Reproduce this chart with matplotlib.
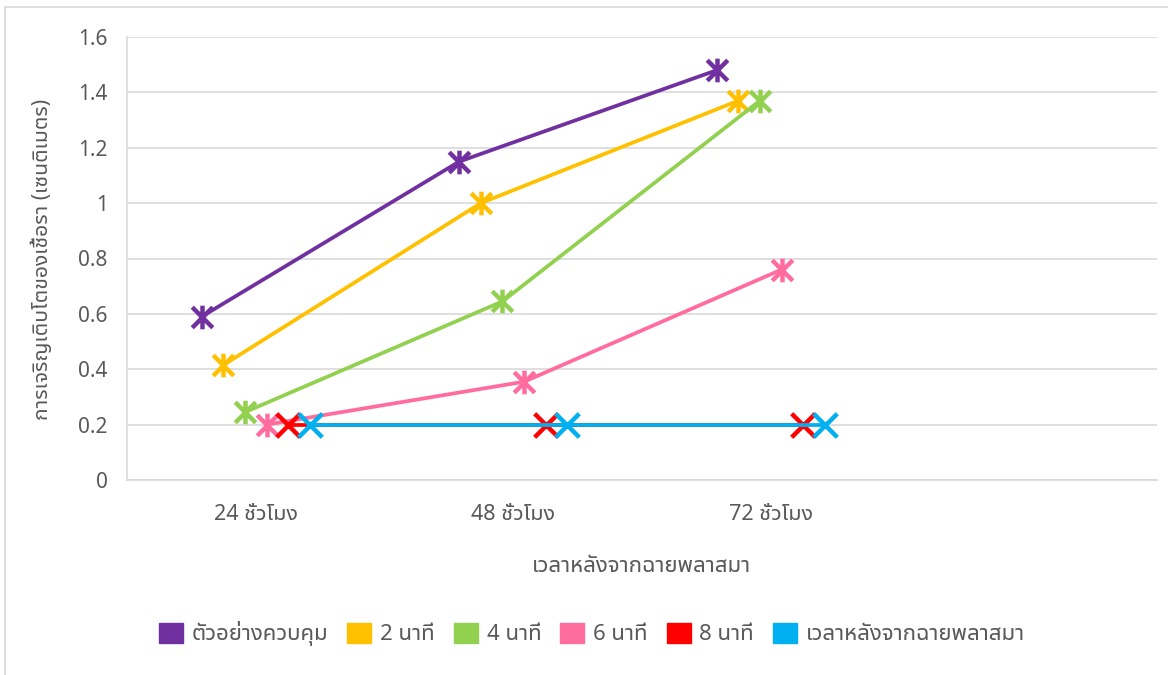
import matplotlib
matplotlib.use('Agg')
import matplotlib.pyplot as plt
from matplotlib import font_manager
from matplotlib.patches import Patch, Rectangle
from matplotlib.path import Path
from matplotlib.ticker import FuncFormatter

# ข้อมูล
categories = ['24 ชั่วโมง', '48 ชั่วโมง', '72 ชั่วโมง', '']
series_names = ['ตัวอย่างควบคุม', '2 นาที', '4 นาที', '6 นาที', '8 นาที',
                'เวลาหลังจากฉายพลาสมา']
control = [0.59, 1.15, 1.48]
min2 = [0.415, 1.0, 1.37]
min4 = [0.245, 0.645, 1.37]
min6 = [0.2, 0.355, 0.76]
min8 = [0.2, 0.2, 0.2]
after = [0.2, 0.2, 0.2]
all_values = [control, min2, min4, min6, min8, after]

colors = ['#7030A0', '#FFC000', '#92D050', '#FF6C9D', '#FF0000', '#00B0F0']

# marker แบบ star ของ Excel (X + เส้นตั้ง)
star = Path([(-1, -1), (1, 1), (-1, 1), (1, -1), (0, -1.15), (0, 1.15)],
            [Path.MOVETO, Path.LINETO] * 3)
cross = Path([(-1, -1), (1, 1), (-1, 1), (1, -1)], [Path.MOVETO, Path.LINETO] * 2)
markers = [star, star, star, star, cross, cross]

# หาฟอนต์ไทย
names = set(f.name for f in font_manager.fontManager.ttflist)
thai = 'DejaVu Sans'
for n in ['Noto Sans Thai UI', 'Noto Sans Thai', 'IBM Plex Sans Thai',
          'Anuphan', 'Prompt', 'Kanit', 'Sarabun']:
    if n in names:
        thai = n
        break
latin = 'Noto Sans' if 'Noto Sans' in names else 'DejaVu Sans'
plt.rcParams['font.family'] = [latin, thai, 'DejaVu Sans']

txt_col = '#595959'
grid_col = '#D9D9D9'

fig = plt.figure(figsize=(11.68, 6.75), dpi=100)
ax = fig.add_axes([127/1168, 1-480/675, 1030/1168, 443/675])

for k, (vals, c, m) in enumerate(zip(all_values, colors, markers)):
    xs = [i + (k - 2.5) * 0.084 for i in range(len(vals))]
    ax.plot(xs, vals, color=c, lw=2.7, marker=m, ms=17, mew=3.2,
            mfc='none', mec=c, zorder=3 + k, clip_on=False)

ax.set_xlim(-0.5, 3.5)
ax.set_ylim(0, 1.6)
ax.set_yticks([0, 0.2, 0.4, 0.6, 0.8, 1.0, 1.2, 1.4, 1.6])
ax.yaxis.set_major_formatter(FuncFormatter(lambda v, p: '{:g}'.format(round(v, 2))))
ax.set_xticks(range(len(categories)))
ax.set_xticklabels(categories)
ax.grid(axis='y', color=grid_col, lw=1.2)
ax.set_axisbelow(True)
for s in ['top', 'right']:
    ax.spines[s].set_visible(False)
for s in ['left', 'bottom']:
    ax.spines[s].set_color(grid_col)
    ax.spines[s].set_linewidth(1.2)
ax.tick_params(axis='both', length=0, labelsize=15, labelcolor=txt_col)
ax.tick_params(axis='x', labelsize=15.5, pad=17)
ax.tick_params(axis='y', pad=14)

fig.text(641/1168, 1-567/675, 'เวลาหลังจากฉายพลาสมา', ha='center', va='center',
         fontsize=16, color=txt_col)
fig.text(42/1168, 1-259/675, 'การเจริญเติบโตของเชื้อรา (เซนติเมตร)', ha='center',
         va='center', rotation=90, fontsize=15.2, color=txt_col)

handles = [Patch(facecolor=c, edgecolor=c) for c in colors]
fig.legend(handles, series_names, loc='center', ncol=6,
           bbox_to_anchor=(592/1168, 1-634/675), frameon=False, fontsize=16,
           labelcolor=txt_col, handlelength=1.08, handleheight=1.05,
           handletextpad=0.4, columnspacing=0.85)

# กรอบรอบแผนภูมิ
fig.patches.append(Rectangle((5/1168, -0.05), 1.1, 1-7/675+0.05,
                             transform=fig.transFigure, fill=False,
                             edgecolor=grid_col, lw=1.2))

fig.savefig('out.png', dpi=100)
